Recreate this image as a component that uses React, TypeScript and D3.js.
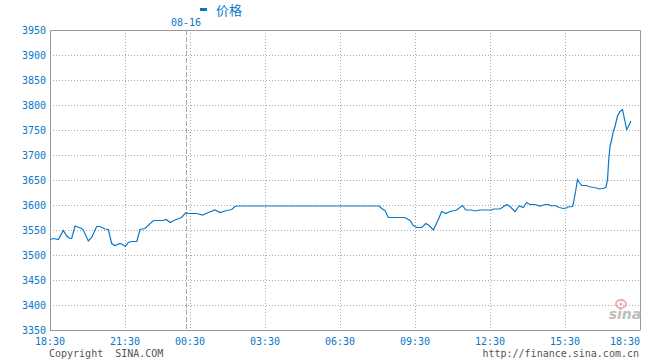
import React from "react";
import * as d3 from "d3";

const times: string[] = [
  "18:30","18:38","18:50","19:02","19:10","19:18","19:22","19:30","19:46","19:50",
  "20:02","20:10","20:22","20:30","20:42","20:50","20:58","21:06","21:18","21:24",
  "21:31","21:38","21:46","21:59","22:07","22:19","22:40","23:04","23:11","23:21",
  "23:33","23:49","00:00","00:17","00:46","01:00","01:14","01:30","01:42","01:58",
  "02:10","02:18","02:22","08:04","08:10","08:18","08:26","09:04","09:10","09:18",
  "09:26","09:34","09:46","09:56","10:04","10:14","10:26","10:34","10:44","10:54",
  "11:10","11:24","11:32","11:46","11:54","12:06","12:34","12:38","12:54","13:10",
  "13:18","13:30","13:40","13:50","13:58","14:06","14:18","14:30","14:42","14:50",
  "14:58","15:06","15:16","15:26","15:34","15:36","15:48","15:50","15:56","16:00",
  "16:08","16:10","16:22","16:26","16:38","16:46","16:52","17:00","17:08","17:12",
  "17:15","17:18","17:22","17:26","17:30","17:36","17:42","17:48","17:50","17:54",
  "17:58","18:04","18:08"
];
const prices: number[] = [
  3531,3533,3531,3549,3538,3533,3533,3558,3553,3550,
  3528,3535,3557,3557,3552,3551,3523,3519,3523,3521,
  3517,3525,3527,3527,3551,3553,3569,3569,3571,3565,
  3570,3575,3585,3583,3583,3580,3585,3590,3585,3589,
  3591,3597,3598,3598,3593,3589,3575,3575,3573,3569,
  3559,3555,3555,3563,3559,3550,3571,3587,3583,3587,
  3590,3599,3590,3590,3588,3590,3590,3592,3592,3601,
  3597,3587,3598,3595,3605,3601,3601,3598,3601,3601,
  3598,3599,3595,3593,3594,3596,3597,3603,3630,3651,
  3641,3639,3639,3637,3635,3634,3632,3633,3635,3650,
  3690,3717,3731,3747,3757,3778,3787,3791,3783,3767,
  3751,3760,3768
];
const yTicks: number[] = [3350,3400,3450,3500,3550,3600,3650,3700,3750,3800,3850,3900,3950];
const xTickLabels: string[] = ["18:30","21:30","00:30","03:30","06:30","09:30","12:30","15:30","18:30"];
const dateLabel = "08-16";
const dateTime = "00:00";
const seriesName = "价格";

const toMin = (t: string, last = false) => {
  const [h, m] = t.split(":").map(Number);
  let v = h * 60 + m - (18 * 60 + 30);
  if (v < 0 || (last && v === 0)) v += 1440;
  return v;
};

export default function App() {
  const W = 660, H = 360;
  const L = 50, R = 640, T = 30, B = 330;
  const pw = R - L;
  const x = d3.scaleLinear()
    .domain([0, 180, 330, 360, 1440])
    .range([L, L + pw * 75 / 590, L + pw * 136 / 590, L + pw * 140 / 590, R]);
  const y = d3.scaleLinear().domain([3350, 3950]).range([B, T]);
  const data = times.map((t, i) => ({ m: toMin(t), v: prices[i] }));
  const line = d3.line<{ m: number; v: number }>().x(d => x(d.m)).y(d => y(d.v));
  const blue = "#0a78c8";
  const grid = "#aaaaaa";
  const mono = "'DejaVu Sans Mono', monospace";
  const xt = xTickLabels.map((l, i) => ({ l, m: toMin(l, i === xTickLabels.length - 1) }));
  const dx = x(toMin(dateTime));
  return (
    <svg width={W} height={H} style={{ position: "absolute", left: 0, top: 0, background: "#fff" }}>
      {yTicks.slice(1, -1).map(v => (
        <line key={v} x1={L} x2={R} y1={y(v) + 0.5} y2={y(v) + 0.5} stroke={grid} strokeDasharray="1,2" />
      ))}
      {xt.slice(1, -1).map((d, i) => (
        <line key={i} x1={Math.round(x(d.m)) + 0.5} x2={Math.round(x(d.m)) + 0.5} y1={T} y2={B} stroke={grid} strokeDasharray="1,2" />
      ))}
      <line x1={Math.round(dx) + 0.5} x2={Math.round(dx) + 0.5} y1={T} y2={B} stroke="#aaa" strokeDasharray="5,2" />
      <path d={`M${L + 0.5},${B + 0.5}V${T + 0.5}H${R + 0.5}V${B + 0.5}`} fill="none" stroke="#999" />
      <line x1={L} x2={R} y1={B + 0.5} y2={B + 0.5} stroke="#999" />
      <g>
        <text x={625} y={319} fontFamily="Verdana, 'DejaVu Sans', sans-serif" fontStyle="italic" fontWeight="bold" fontSize={14} fill="#bdbdbd" textAnchor="middle">sina</text>
        <ellipse cx={621} cy={304} rx={5} ry={4} fill="none" stroke="#eeaaaa" strokeWidth={1.8} />
        <circle cx={621} cy={304} r={1.5} fill="#eeaaaa" />
      </g>
      <path d={line(data) || ""} fill="none" stroke={blue} strokeWidth={1.2} />
      {yTicks.map(v => (
        <text key={v} x={46} y={y(v)} dy="0.35em" textAnchor="end" fontFamily={mono} fontSize={10} fill={blue}>{v}</text>
      ))}
      {xt.map((d, i) => (
        <text key={i} x={i === xt.length - 1 ? R : x(d.m)} y={345} textAnchor={i === xt.length - 1 ? "end" : "middle"} fontFamily={mono} fontSize={10} fill={blue}>{d.l}</text>
      ))}
      <text x={dx} y={26} textAnchor="middle" fontFamily={mono} fontSize={10} fill={blue}>{dateLabel}</text>
      <rect x={200} y={8} width={7} height={3} fill={blue} />
      <text x={216} y={15} fontFamily="'Noto Sans CJK SC', sans-serif" fontSize={13} fill={blue}>{seriesName}</text>
      <text x={49} y={357} fontFamily={mono} fontSize={10} fill="#555" style={{ whiteSpace: "pre" }}>{"Copyright  SINA.COM"}</text>
      <text x={639} y={357} textAnchor="end" fontFamily={mono} fontSize={10} fill="#555">http://finance.sina.com.cn</text>
    </svg>
  );
}
